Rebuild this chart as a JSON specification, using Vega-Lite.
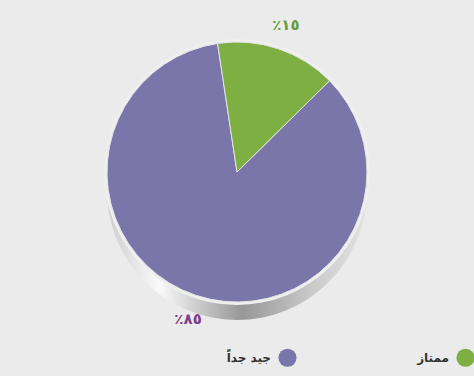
{
  "$schema": "https://vega.github.io/schema/vega-lite/v6.json",
  "width": 474,
  "height": 376,
  "autosize": {"type": "fit", "contains": "padding"},
  "padding": 0,
  "background": "#ebebeb",
  "config": {"view": {"stroke": null}, "font": "DejaVu Sans"},
  "data": {
    "values": [
      {"category": "جيد جداً", "value": 85, "label": "٪٨٥"},
      {"category": "ممتاز", "value": 15, "label": "٪١٥"}
    ]
  },
  "layer": [
    {
      "transform": [{"aggregate": [{"op": "sum", "field": "value", "as": "total"}]}],
      "mark": {"type": "arc", "outerRadius": 130, "yOffset": 2,
        "fill": {"gradient": "linear", "x1": 0, "y1": 0, "x2": 1, "y2": 0,
          "stops": [{"offset": 0, "color": "#cdcdcd"}, {"offset": 0.2, "color": "#fafafa"}, {"offset": 0.52, "color": "#979797"}, {"offset": 0.8, "color": "#cccccc"}, {"offset": 1, "color": "#e2e2e2"}]}},
      "encoding": {"theta": {"field": "total", "type": "quantitative"}}
    },
    {
      "transform": [{"aggregate": [{"op": "sum", "field": "value", "as": "total"}]}],
      "mark": {"type": "arc", "outerRadius": 130, "yOffset": -5,
        "fill": {"gradient": "linear", "x1": 0, "y1": 0, "x2": 1, "y2": 0,
          "stops": [{"offset": 0, "color": "#cdcdcd"}, {"offset": 0.2, "color": "#fafafa"}, {"offset": 0.52, "color": "#979797"}, {"offset": 0.8, "color": "#cccccc"}, {"offset": 1, "color": "#e2e2e2"}]}},
      "encoding": {"theta": {"field": "total", "type": "quantitative"}}
    },
    {
      "transform": [{"aggregate": [{"op": "sum", "field": "value", "as": "total"}]}],
      "mark": {"type": "arc", "outerRadius": 130, "yOffset": -11,
        "fill": {"gradient": "linear", "x1": 0, "y1": 0, "x2": 1, "y2": 0,
          "stops": [{"offset": 0, "color": "#cdcdcd"}, {"offset": 0.2, "color": "#fafafa"}, {"offset": 0.52, "color": "#979797"}, {"offset": 0.8, "color": "#cccccc"}, {"offset": 1, "color": "#e2e2e2"}]}},
      "encoding": {"theta": {"field": "total", "type": "quantitative"}}
    },
    {
      "transform": [{"aggregate": [{"op": "sum", "field": "value", "as": "total"}]}],
      "mark": {"type": "arc", "outerRadius": 133, "yOffset": -16, "fill": "#efefef"},
      "encoding": {"theta": {"field": "total", "type": "quantitative"}}
    },
    {
      "mark": {"type": "arc", "outerRadius": 130, "yOffset": -16, "stroke": "#e4e4e4", "strokeWidth": 1},
      "encoding": {
        "theta": {"field": "value", "type": "quantitative", "stack": true, "scale": {"range": [0.7924, 7.0756]}},
        "order": {"field": "value", "type": "quantitative", "sort": "descending"},
        "color": {
          "field": "category", "type": "nominal",
          "scale": {"domain": ["جيد جداً", "ممتاز"], "range": ["#7a76aa", "#7daf43"]},
          "legend": {
            "title": null, "orient": "none", "direction": "horizontal",
            "legendX": 278, "legendY": 348,
            "symbolType": "circle", "symbolSize": 330, "symbolStrokeWidth": 0,
            "labelFontSize": 12, "labelFontWeight": "bold", "labelColor": "#333333",
            "labelAlign": "right", "labelOffset": -26, "columnPadding": 120
          }
        }
      }
    },
    {
      "mark": {"type": "text", "radius": 155, "yOffset": -16, "fontSize": 15, "fontWeight": "bold", "font": "DejaVu Sans"},
      "encoding": {
        "theta": {"field": "value", "type": "quantitative", "stack": true},
        "order": {"field": "value", "type": "quantitative", "sort": "descending"},
        "detail": {"field": "category", "type": "nominal"},
        "text": {"field": "label"},
        "color": {"condition": {"test": "datum.category === 'ممتاز'", "value": "#6b9b3d"}, "value": "#7e3e8a"}
      }
    }
  ]
}
